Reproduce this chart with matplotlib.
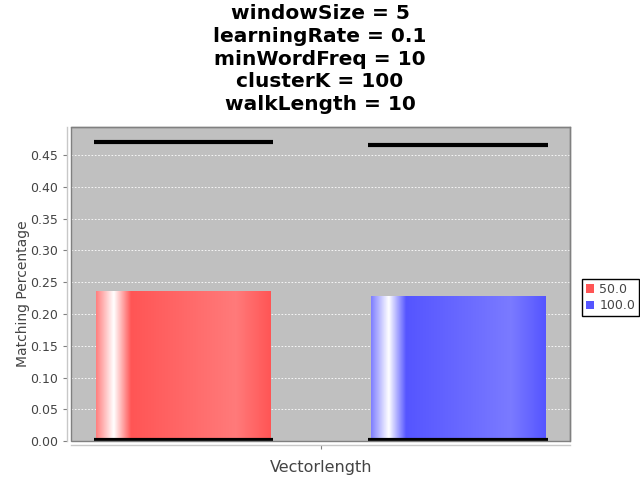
import numpy as np
import matplotlib
matplotlib.use('Agg')
import matplotlib.pyplot as plt
from matplotlib.colors import LinearSegmentedColormap

# データ
series = ['50.0', '100.0']
values = [0.237, 0.229]
lower = [0.0, 0.0]
upper = [0.471, 0.466]
colors = ['#ff5555', '#5555ff']
title_lines = ['windowSize = 5', 'learningRate = 0.1', 'minWordFreq = 10',
               'clusterK = 100', 'walkLength = 10']

fig = plt.figure(figsize=(6.4, 4.8), dpi=100)
ax = fig.add_axes([0.111, 0.081, 0.78, 0.654])
ax.set_facecolor('#c0c0c0')

offsets = [-0.275, 0.275]
width = 0.35


def lighter(c, f):
    c = np.array(matplotlib.colors.to_rgb(c))
    return tuple(c + (1 - c) * f)


# グラデーション付きの棒
for i, (s, v) in enumerate(zip(series, values)):
    bar = ax.bar(offsets[i], v, width, color=colors[i], label=s, zorder=2)[0]
    base = colors[i]
    cmap = LinearSegmentedColormap.from_list(
        'g%d' % i,
        [(0.0, lighter(base, 0.25)), (0.1, (1, 1, 1)), (0.2, base),
         (0.8, lighter(base, 0.22)), (1.0, base)])
    grad = np.linspace(0, 1, 256).reshape(1, -1)
    im = ax.imshow(grad, cmap=cmap, aspect='auto', zorder=3,
                   extent=[offsets[i] - width / 2, offsets[i] + width / 2, 0, v])
    im.set_clip_path(bar)

# 区間の線 (上限・下限)
for i in range(len(series)):
    for y in (lower[i], upper[i]):
        ax.hlines(y + (0.0015 if y == 0 else 0), offsets[i] - 0.18, offsets[i] + 0.18,
                  color='black', lw=3, zorder=4)

ax.set_xlim(-0.5, 0.5)
ax.set_ylim(0, 0.494)
ax.set_yticks(np.arange(0, 0.46, 0.05))
ax.set_yticklabels(['%.2f' % t for t in np.arange(0, 0.46, 0.05)])
ax.yaxis.grid(True, color='white', linestyle=(0, (2, 2)), lw=0.6)
ax.set_axisbelow(True)
ax.set_xticks([0])
ax.set_xticklabels([''])

for sp in ['top', 'right', 'left', 'bottom']:
    ax.spines[sp].set_color('#808080')
    ax.spines[sp].set_linewidth(1)
ax.spines['left'].set_position(('outward', 3))
ax.spines['bottom'].set_position(('outward', 3))
ax.spines['left'].set_color('#c8c8c8')
ax.spines['bottom'].set_color('#c8c8c8')
# 枠線
ax.add_patch(plt.Rectangle((0, 0), 1, 1, transform=ax.transAxes, fill=False,
                           edgecolor='#808080', lw=1, zorder=5, clip_on=False))
ax.tick_params(axis='y', colors='#808080', labelcolor='#444444', labelsize=9, length=3)
ax.tick_params(axis='x', colors='#808080', length=3)

ax.set_ylabel('Matching Percentage', fontsize=10, color='#444444')
ax.yaxis.set_label_coords(-0.083, 0.47)
ax.set_xlabel('Vectorlength', fontsize=11.5, color='#444444', labelpad=4)

y0 = 0.971
for k, t in enumerate(title_lines):
    fig.text(0.5, y0 - k * 0.047, t, ha='center', va='center',
             fontsize=14.5, fontweight='bold')

leg = fig.legend(loc='center left', bbox_to_anchor=(0.909, 0.38), fontsize=9,
                 handlelength=0.7, handleheight=0.7, handletextpad=0.4,
                 borderpad=0.3, labelspacing=0.3, fancybox=False, framealpha=1,
                 borderaxespad=0)
leg.get_frame().set_edgecolor('black')
for t in leg.get_texts():
    t.set_color('#444444')

fig.savefig('out.png', dpi=100)
